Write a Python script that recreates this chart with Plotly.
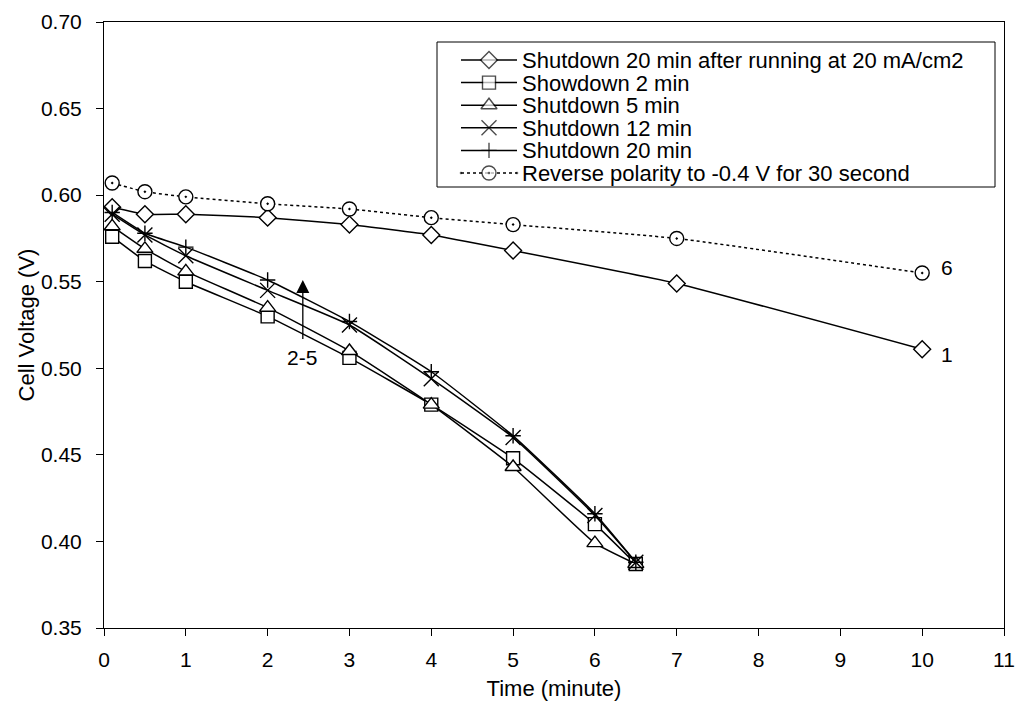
import plotly.graph_objects as go

# ---- data ----
t_long = [0.1, 0.5, 1, 2, 3, 4, 5, 7, 10]
v_s20_after = [0.593, 0.589, 0.589, 0.587, 0.583, 0.577, 0.568, 0.549, 0.511]
v_reverse = [0.607, 0.602, 0.599, 0.595, 0.592, 0.587, 0.583, 0.575, 0.555]

t_short = [0.1, 0.5, 1, 2, 3, 4, 5, 6, 6.5]
v_s2 = [0.576, 0.562, 0.550, 0.530, 0.506, 0.479, 0.448, 0.410, 0.387]
v_s5 = [0.582, 0.569, 0.556, 0.535, 0.510, 0.479, 0.443, 0.399, 0.387]
v_s12 = [0.589, 0.577, 0.565, 0.545, 0.525, 0.494, 0.460, 0.415, 0.388]
v_s20 = [0.590, 0.578, 0.570, 0.551, 0.527, 0.498, 0.461, 0.416, 0.388]

names = [
    "Shutdown 20 min after running at 20 mA/cm2",
    "Showdown 2 min",
    "Shutdown 5 min",
    "Shutdown 12 min",
    "Shutdown 20 min",
    "Reverse polarity to -0.4 V for 30 second",
]

x_ticks = list(range(0, 12))
y_ticks = [0.35, 0.40, 0.45, 0.50, 0.55, 0.60, 0.65, 0.70]

FONT = "Liberation Sans, Arial, sans-serif"

# plot area in pixels
L, R, T, B = 104, 1004, 22, 628
W, H = 1017, 705

styles = [
    dict(symbol="diamond", size=13, dash="solid"),
    dict(symbol="square", size=13, dash="solid"),
    dict(symbol="triangle-up", size=14, dash="solid"),
    dict(symbol="x-thin", size=15, dash="solid"),
    dict(symbol="cross-thin", size=11, dash="solid"),
    dict(symbol="circle-dot", size=14, dash="dot"),
]
series = [
    (t_long, v_s20_after),
    (t_short, v_s2),
    (t_short, v_s5),
    (t_short, v_s12),
    (t_short, v_s20),
    (t_long, v_reverse),
]

fig = go.Figure()


def marker_for(st, sizes):
    thin = st["symbol"].endswith("-thin")
    return dict(symbol=st["symbol"] + ("-open" if thin else ""), size=sizes,
                color="black" if thin else "white",
                line=dict(color="black", width=1.4))


for (x, y), name, st in zip(series, names, styles):
    fig.add_trace(go.Scatter(
        x=x, y=y, name=name, mode="lines+markers", showlegend=False,
        line=dict(color="black", width=1.5, dash=st["dash"], shape="spline", smoothing=0.4),
        marker=marker_for(st, st["size"]),
    ))

# ---- hand-drawn legend on an overlay axis in pixel units ----
leg_x0, leg_x1, leg_y0, leg_y1 = 437, 995, 42, 187
row0, row_step = 60, 22.6
for i, (name, st) in enumerate(zip(names, styles)):
    ry = row0 + row_step * i
    fig.add_trace(go.Scatter(
        x=[461, 489, 517], y=[ry, ry, ry], xaxis="x2", yaxis="y2",
        mode="lines+markers", showlegend=False, hoverinfo="skip",
        line=dict(color="black", width=1.5, dash=st["dash"]),
        marker=marker_for(st, [0, st["size"], 0]),
    ))
base_size = row_step / 1.3
legend_text = "<br>".join(f'<span style="font-size:22px">{n}</span>' for n in names)
fig.add_annotation(x=520, y=row0 + row_step * 2.5, xref="x2", yref="y2",
                   text=legend_text, align="left",
                   xanchor="left", yanchor="middle", showarrow=False,
                   font=dict(size=base_size, color="black", family=FONT))
fig.add_shape(type="rect", xref="x2", yref="y2", x0=leg_x0, x1=leg_x1,
              y0=leg_y0, y1=leg_y1, line=dict(color="black", width=1),
              fillcolor="rgba(0,0,0,0)", layer="above")

# arrow and labels
fig.add_annotation(x=2.43, y=0.551, ax=2.43, ay=0.516, axref="x", ayref="y",
                   xref="x", yref="y", text="", showarrow=True,
                   arrowhead=2, arrowsize=2, arrowwidth=1.3, arrowcolor="black")
fig.add_annotation(x=2.42, y=0.506, text="2-5", showarrow=False,
                   font=dict(size=21, color="black", family=FONT))
fig.add_annotation(x=10.3, y=0.558, text="6", showarrow=False,
                   font=dict(size=21, color="black", family=FONT))
fig.add_annotation(x=10.3, y=0.508, text="1", showarrow=False,
                   font=dict(size=21, color="black", family=FONT))

fig.update_layout(
    width=W, height=H,
    margin=dict(l=L, r=W - R, t=T, b=H - B),
    paper_bgcolor="white", plot_bgcolor="white",
    font=dict(family=FONT, size=21, color="black"),
    showlegend=False,
    xaxis=dict(
        range=[0, 11], tickvals=x_ticks, ticktext=[str(v) for v in x_ticks],
        showgrid=False, zeroline=False, showline=True, linecolor="black",
        linewidth=1, mirror=True, ticks="outside", ticklen=7, tickcolor="black",
        ticklabelstandoff=6, automargin=False,
        title=dict(text="Time (minute)", font=dict(size=22), standoff=10),
    ),
    yaxis=dict(
        range=[0.35, 0.70], tickvals=y_ticks, ticktext=[f"{v:.2f}" for v in y_ticks],
        showgrid=False, zeroline=False, showline=True, linecolor="black",
        linewidth=1, mirror=True, ticks="outside", ticklen=7, tickcolor="black",
        ticklabelstandoff=10, automargin=False,
        title=dict(text="Cell Voltage (V)", font=dict(size=22), standoff=0),
    ),
    xaxis2=dict(range=[L, R], overlaying="x", visible=False, fixedrange=True),
    yaxis2=dict(range=[B, T], overlaying="y", visible=False, fixedrange=True),
)

fig.write_html("out.html")
